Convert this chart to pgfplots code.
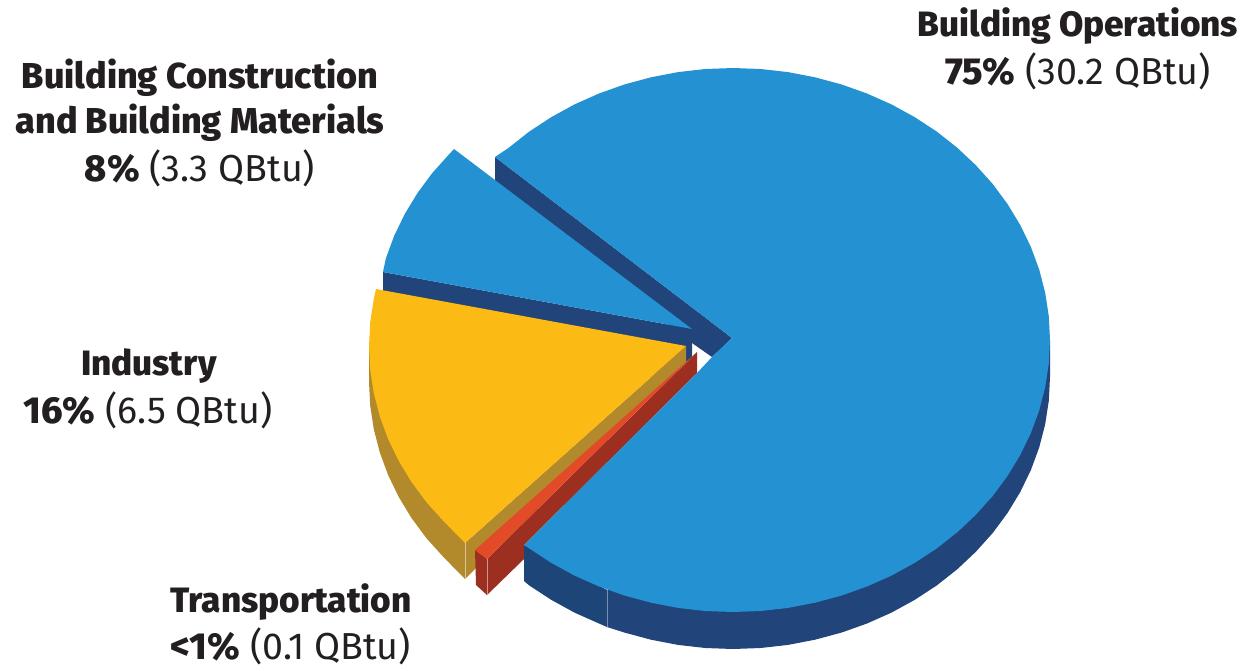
\documentclass[border=0pt]{standalone}
\usepackage{fontspec}
\setmainfont{Fira Sans}[BoldFont={Fira Sans ExtraBold}]
\usepackage{pgfplots}
\usepackage{pgfplotstable}
\pgfplotsset{compat=1.18}

\definecolor{pieblue}{HTML}{2391D2}
\definecolor{piedark}{HTML}{21447A}
\definecolor{piedarkb}{HTML}{1E4577}
\definecolor{pieyellow}{HTML}{FBBA14}
\definecolor{piegold}{HTML}{B28A2C}
\definecolor{piered}{HTML}{E34A27}
\definecolor{piedarkred}{HTML}{9C2F20}
\definecolor{labelink}{HTML}{231F20}

% all coordinates are pixels of the 1246x670 picture, y running down
\pgfplotstableread{
x y
732 338
495 157
508.8 147.7
529.2 131.6
551.2 117.2
574.5 104.4
599 93.5
624.6 84.4
651 77.3
678 72.1
705.4 69
733 68
760.6 69
788 72.1
815 77.3
841.4 84.4
867 93.5
891.5 104.4
914.8 117.2
936.8 131.6
957.2 147.7
975.8 165.2
992.7 184
1007.5 204
1020.3 225.1
1030.9 247
1039.2 269.6
1045.2 292.8
1048.8 316.3
1050 340
1048.8 363.7
1045.2 387.2
1039.2 410.4
1030.9 433
1020.3 454.9
1007.5 476
992.7 496
975.8 514.8
957.2 532.3
936.8 548.4
914.8 562.8
891.5 575.6
867 586.5
841.4 595.6
815 602.7
788 607.9
760.6 611
733 612
705.4 611
678 607.9
651 602.7
624.6 595.6
599 586.5
574.5 575.6
551.2 562.8
529.2 548.4
524 545
697 373
712 357
}\mainface

\pgfplotstableread{
x y
1050 340
1050 377
1048.8 400.7
1045.2 424.2
1039.2 447.4
1030.9 470
1020.3 491.9
1007.5 513
992.7 533
975.8 551.8
957.2 569.3
936.8 585.4
914.8 599.8
891.5 612.6
867 623.5
841.4 632.6
815 639.7
788 644.9
760.6 648
733 649
705.4 648
678 644.9
651 639.7
624.6 632.6
607 627
607 590
}\mainrim

\pgfplotstableread{
x y
607 590
607 627
599 623.5
574.5 612.6
551.2 599.8
529.2 585.4
524 581
524 545
}\mainrimleft

\pgfplotstableread{
x y
495 157
732 338
712 357
692 343
495 194
}\maincut

\pgfplotstableread{
x y
692 329
454 149
449.2 154.2
432.3 173
417.5 193
404.7 214.1
394.1 236
385.8 258.6
383 272
}\constrface

\pgfplotstableread{
x y
383 272
692 329
692 358
660 380
383 310
}\constrcut

\pgfplotstableread{
x y
686 346
376 289
373.8 298.8
370.2 322.3
369 346
370.2 369.7
373.8 393.2
379.8 416.4
388.1 439
398.7 460.9
411.5 482
426.3 502
443.2 520.8
465 543
}\industryface

\pgfplotstableread{
x y
369 346
369 382
370.2 405.7
373.8 429.2
379.8 452.4
388.1 475
398.7 496.9
411.5 518
426.3 538
443.2 556.8
465 579
465 543
}\industryrim

\pgfplotstableread{
x y
686 346
465 543
465 579
476 568
686 362
}\industrycut

\pgfplotstableread{
x y
697 352
487 559
487 595
524 559
524 545
697 373
}\transcut

\pgfplotstableread{
x y
475 550
476 585
487 595
487 559
}\transend

\pgfplotstableread{
x y
697 352
475 550
487 559
}\transface

\begin{document}
\begin{tikzpicture}
\begin{axis}[
    scale only axis,
    width=623pt, height=335pt,
    xmin=0, xmax=1246,
    ymin=0, ymax=670,
    y dir=reverse,
    hide axis,
    clip=false,
]
\path (axis cs:0,0) rectangle (axis cs:1246,670);

\addplot[fill=piedark, draw=none] table {\maincut} -- cycle;
\addplot[fill=piedark, draw=none] table {\constrcut} -- cycle;
\addplot[fill=pieblue, draw=none] table {\constrface} -- cycle;

\addplot[fill=piegold, draw=none] table {\industryrim} -- cycle;
\addplot[fill=piegold, draw=none] table {\industrycut} -- cycle;
\addplot[fill=pieyellow, draw=none] table {\industryface} -- cycle;
\addplot[draw=piegold!50!white, line width=0.3pt] coordinates {(465,543)(465,579)};

\addplot[fill=piedarkred, draw=none] table {\transcut} -- cycle;
\addplot[fill=piedarkred, draw=none] table {\transend} -- cycle;
\addplot[fill=piered, draw=none] table {\transface} -- cycle;
\addplot[draw=piedarkred!50!white, line width=0.3pt] coordinates {(487,559)(487,595)};

\addplot[fill=piedark, draw=none] table {\mainrim} -- cycle;
\addplot[fill=piedarkb, draw=none] table {\mainrimleft} -- cycle;
\addplot[draw=piedark!60!white, line width=0.3pt] coordinates {(607,590)(607,627)};
\addplot[fill=pieblue, draw=none] table {\mainface} -- cycle;

\tikzset{
    lab/.style={anchor=base, text=labelink, inner sep=0pt, font=\fontsize{17.6}{20}\selectfont},
    labw/.style={anchor=base, text=labelink, inner sep=0pt, font=\fontsize{18}{20}\selectfont},
    val/.style={anchor=base, text=labelink, inner sep=0pt, font=\fontsize{18.8}{22}\selectfont},
}
\node[lab] at (axis cs:1078,36) {\textbf{Building Operations}};
\node[val] at (axis cs:1078,84) {\textbf{75\%} (30.2 QBtu)};
\node[labw] at (axis cs:200,88) {\textbf{Building Construction}};
\node[labw] at (axis cs:200,133) {\textbf{and Building Materials}};
\node[val] at (axis cs:200,181) {\textbf{8\%} (3.3 QBtu)};
\node[lab] at (axis cs:149,375) {\textbf{Industry}};
\node[val] at (axis cs:148,423) {\textbf{16\%} (6.5 QBtu)};
\node[lab] at (axis cs:291,612) {\textbf{Transportation}};
\node[val] at (axis cs:291,659) {\textbf{<1\%} (0.1 QBtu)};
\end{axis}
\end{tikzpicture}
\end{document}
